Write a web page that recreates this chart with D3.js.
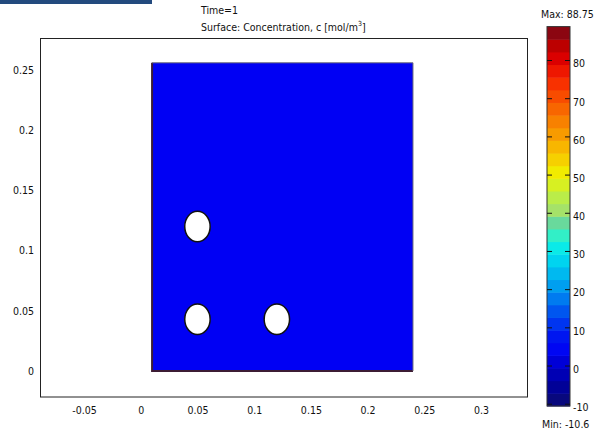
<!DOCTYPE html>
<html>
<head>
<meta charset="utf-8">
<script src="https://cdn.jsdelivr.net/npm/d3@7"></script>
<style>
  html, body { margin: 0; padding: 0; background: #fff; }
  svg { display: block; }
  text { font-family: "DejaVu Sans Condensed", "Liberation Sans", sans-serif; font-size: 10.5px; fill: #111; }
</style>
</head>
<body>
<svg id="chart" width="596" height="434"></svg>
<script>
// Geometry of the domain (metres)
const domainRect = { x0: 0.01, x1: 0.24, y0: 0, y1: 0.256 };
const holeX = [0.05, 0.05, 0.12];
const holeY = [0.12, 0.043, 0.043];
const holeRx = [0.0112, 0.0112, 0.0112];
const holeRy = [0.0127, 0.0127, 0.0127];

// Field value shown on the surface
const surfaceConcentration = 3;
const cMin = -10.6;
const cMax = 88.75;

// Axis ticks
const xTicks = [-0.05, 0, 0.05, 0.1, 0.15, 0.2, 0.25, 0.3];
const yTicks = [0, 0.05, 0.1, 0.15, 0.2, 0.25];
const colorTicks = [-10, 0, 10, 20, 30, 40, 50, 60, 70, 80];

// Rainbow colour table (value -> colour)
const cmapValues = [-10.6, -5, 0, 3, 8, 12, 16, 20, 25, 30, 34, 37, 38.5, 40, 45, 50, 55, 60, 65, 70, 75, 80, 85, 88.75];
const cmapColors = ["#0c0c70", "#00009c", "#0000c8", "#0000f4", "#0018f0", "#0040f0", "#0068f0", "#0098f0",
  "#00c0f0", "#00e8f0", "#30f0c8", "#60e0a0", "#80c890", "#a0e070", "#c0f040", "#f0f000", "#f8c800",
  "#f8a000", "#f87800", "#f85000", "#f82800", "#e00000", "#b00000", "#6e0a1e"];
const bandCount = 30;

const svg = d3.select("#chart");

const x = d3.scaleLinear().domain([-0.0888, 0.3414]).range([40, 528]);
const y = d3.scaleLinear().domain([-0.0216, 0.2766]).range([397, 38]);
const cmap = d3.scaleLinear().domain(cmapValues).range(cmapColors).interpolate(d3.interpolateRgb).clamp(true);

// Header strip
svg.append("rect").attr("x", 0).attr("y", 0).attr("width", 152).attr("height", 4).attr("fill", "#234a7e");

// Titles
svg.append("text").attr("x", 201).attr("y", 14).text("Time=1");
const t2 = svg.append("text").attr("x", 201).attr("y", 31);
t2.append("tspan").text("Surface: Concentration, c [mol/m");
t2.append("tspan").attr("dy", -5).attr("font-size", "7px").text("3");
t2.append("tspan").attr("dy", 5).text("]");

// Plot frame
svg.append("rect").attr("x", 40.5).attr("y", 38.5).attr("width", 487).attr("height", 358.5)
  .attr("fill", "none").attr("stroke", "#222").attr("stroke-width", 1);

// Surface
const sx0 = x(domainRect.x0), sx1 = x(domainRect.x1), sy0 = y(domainRect.y0), sy1 = y(domainRect.y1);
svg.append("rect").attr("x", sx0).attr("y", sy1).attr("width", sx1 - sx0).attr("height", sy0 - sy1)
  .attr("fill", cmap(surfaceConcentration));
svg.append("path")
  .attr("d", `M${sx0},${sy1}L${sx0},${sy0}L${sx1},${sy0}`)
  .attr("fill", "none").attr("stroke", "#3c1c34").attr("stroke-width", 2);
svg.append("path")
  .attr("d", `M${sx0},${sy1}L${sx1},${sy1}L${sx1},${sy0}`)
  .attr("fill", "none").attr("stroke", "#6a6a7a").attr("stroke-width", 1);

// Holes
svg.selectAll("ellipse.hole").data(d3.range(holeX.length)).join("ellipse")
  .attr("class", "hole")
  .attr("cx", i => x(holeX[i]))
  .attr("cy", i => y(holeY[i]))
  .attr("rx", i => x(holeX[i] + holeRx[i]) - x(holeX[i]))
  .attr("ry", i => y(holeY[i]) - y(holeY[i] + holeRy[i]))
  .attr("fill", "#fff").attr("stroke", "#111").attr("stroke-width", 1.5);

// Axes
const xAxis = svg.append("g").attr("transform", "translate(0,397)")
  .call(d3.axisBottom(x).tickValues(xTicks).tickFormat(d => String(d)).tickSize(0).tickPadding(10));
xAxis.select(".domain").remove();
const yAxis = svg.append("g").attr("transform", "translate(40,0)")
  .call(d3.axisLeft(y).tickValues(yTicks).tickFormat(d => String(d)).tickSize(0).tickPadding(6));
yAxis.select(".domain").remove();
svg.selectAll(".tick text").attr("font-family", null).attr("font-size", null).style("fill", "#111");

// Colour bar
const cb = d3.scaleLinear().domain([cMin, cMax]).range([406, 26.6]);
const bandW = (cMax - cMin) / bandCount;
const bands = d3.range(bandCount).map(i => ({ lo: cMin + i * bandW, hi: cMin + (i + 1) * bandW }));
const cbX = 547, cbW = 23;
svg.selectAll("rect.band").data(bands).join("rect")
  .attr("class", "band")
  .attr("x", cbX).attr("width", cbW)
  .attr("y", d => cb(d.hi)).attr("height", d => cb(d.lo) - cb(d.hi) + 0.5)
  .attr("fill", d => cmap((d.lo + d.hi) / 2));
svg.append("rect").attr("x", cbX).attr("y", cb(cMax)).attr("width", cbW).attr("height", cb(cMin) - cb(cMax))
  .attr("fill", "none").attr("stroke", "#333").attr("stroke-width", 1);

const cbRight = svg.append("g").attr("transform", `translate(${cbX + cbW},0)`)
  .call(d3.axisRight(cb).tickValues(colorTicks).tickFormat(d => String(d)).tickSizeInner(-5).tickSizeOuter(0).tickPadding(3));
cbRight.select(".domain").remove();
cbRight.selectAll("line").attr("stroke", "#111");
cbRight.selectAll("text").attr("dy", "0.65em").attr("font-family", null).attr("font-size", null);
const cbLeft = svg.append("g").attr("transform", `translate(${cbX},0)`)
  .call(d3.axisLeft(cb).tickValues(colorTicks).tickFormat("").tickSizeInner(-5).tickSizeOuter(0));
cbLeft.select(".domain").remove();
cbLeft.selectAll("line").attr("stroke", "#111");

svg.append("text").attr("x", 541).attr("y", 18).text("Max: " + cMax);
svg.append("text").attr("x", 542).attr("y", 428).text("Min: " + cMin);
</script>
</body>
</html>
